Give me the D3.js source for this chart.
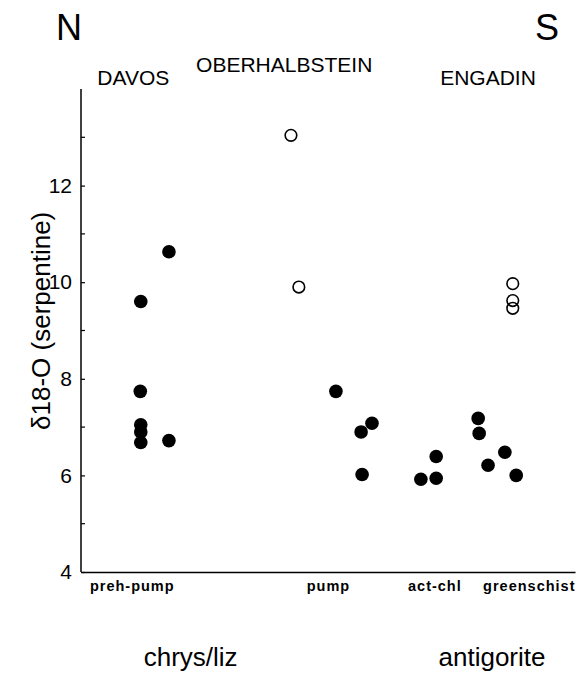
<!DOCTYPE html>
<html><head><meta charset="utf-8">
<script src="https://cdn.jsdelivr.net/npm/d3@7"></script>
<style>body{margin:0;background:#fff}svg{display:block}text{font-family:"Liberation Sans",Arial,sans-serif;fill:#000}</style>
</head><body><div id="chart"></div>
<script>
// Filled circles (serpentine samples)
const filledX = [12.1, 12.0, 12.1, 12.1, 12.1, 17.8, 17.8, 51.6, 58.9, 56.7, 56.9, 68.8, 71.9, 71.9, 80.4, 80.6, 82.4, 85.8, 88.1];
const filledY = [9.6, 7.74, 7.05, 6.9, 6.68, 10.63, 6.72, 7.74, 7.08, 6.9, 6.02, 5.92, 6.39, 5.94, 7.18, 6.87, 6.21, 6.48, 6.0];
// Open circles
const openX = [42.5, 44.1, 87.4, 87.4, 87.4];
const openY = [13.04, 9.9, 9.97, 9.62, 9.46];
const yTicks = [4, 6, 8, 10, 12];
const yMinor = [5, 7, 9, 11, 13];
const faciesLabels = ["preh-pump", "pump", "act-chl", "greenschist"];
const faciesX = [1.8, 45.7, 66.2, 81.4];
const regionLabels = ["DAVOS", "OBERHALBSTEIN", "ENGADIN"];
const regionX = [3.3, 23.3, 72.7];
const mineralLabels = ["chrys/liz", "antigorite"];
const mineralX = [22.2, 83.2];

const W = 579, H = 674;
const svg = d3.select("#chart").append("svg").attr("width", W).attr("height", H);
const x = d3.scaleLinear().domain([0, 100]).range([81, 575]);
const y = d3.scaleLinear().domain([4, 14]).range([572, 89]);

// y axis
const yAxis = d3.axisLeft(y).tickValues(yTicks).tickSize(5).tickFormat(d3.format("d"));
const gy = svg.append("g").attr("transform", "translate(81,0)").call(yAxis);
gy.select(".domain").attr("d", `M0,${y(14)}V${y(4)}`).attr("stroke", "#000").attr("stroke-width", 1.5);
gy.selectAll(".tick line").attr("x2", 4).attr("stroke-width", 1.2);
gy.selectAll(".tick text").attr("x", -9).attr("font-size", 21).attr("font-family", "Liberation Sans, Arial, sans-serif");
svg.append("g").selectAll("line").data(yMinor).join("line")
  .attr("x1", 81).attr("x2", 85).attr("y1", d => y(d)).attr("y2", d => y(d))
  .attr("stroke", "#000").attr("stroke-width", 1.2);

// x axis line
const xAxis = d3.axisBottom(x).tickValues([]).tickSize(0);
const gx = svg.append("g").attr("transform", `translate(0,${y(4)})`).call(xAxis);
gx.select(".domain").attr("stroke", "#000").attr("stroke-width", 1.5);

// facies labels
svg.append("g").selectAll("text").data(faciesLabels).join("text")
  .attr("x", (d, i) => x(faciesX[i])).attr("y", 591)
  .attr("font-size", 14.5).attr("font-weight", "bold").attr("letter-spacing", 1.0).text(d => d);

// y label
svg.append("text").attr("transform", `translate(50,${y(9.2)}) rotate(-90)`)
  .attr("text-anchor", "middle").attr("font-size", 26)
  .text("δ18-O (serpentine)");

// N / S
svg.append("text").attr("x", 56).attr("y", 40).attr("font-size", 36).text("N");
svg.append("text").attr("x", 535).attr("y", 40).attr("font-size", 36).text("S");

// region labels
svg.append("g").selectAll("text").data(regionLabels).join("text")
  .attr("x", (d, i) => x(regionX[i])).attr("y", (d, i) => i === 1 ? 72 : 85)
  .attr("font-size", 21).text(d => d);

// mineral labels
svg.append("g").selectAll("text").data(mineralLabels).join("text")
  .attr("x", (d, i) => x(mineralX[i])).attr("y", 666).attr("text-anchor", "middle")
  .attr("font-size", 26).text(d => d);

// points
svg.append("g").selectAll("circle").data(filledX).join("circle")
  .attr("cx", (d) => x(d)).attr("cy", (d, i) => y(filledY[i])).attr("r", 6.8).attr("fill", "#000");
svg.append("g").selectAll("circle").data(openX).join("circle")
  .attr("cx", (d) => x(d)).attr("cy", (d, i) => y(openY[i])).attr("r", 5.8)
  .attr("fill", "none").attr("stroke", "#000").attr("stroke-width", 1.6);
</script></body></html>
